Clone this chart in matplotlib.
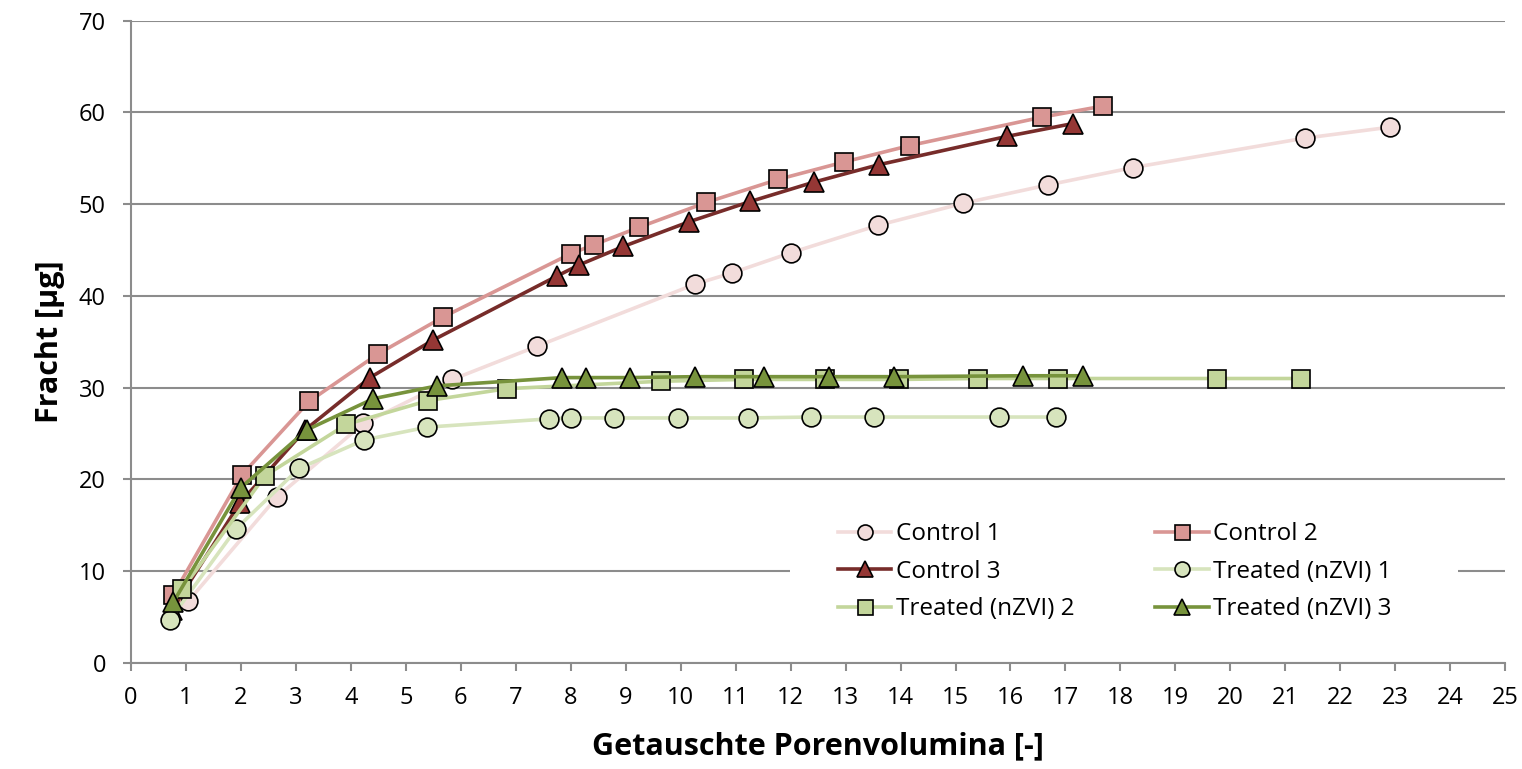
import matplotlib
matplotlib.use('Agg')
from matplotlib import pyplot as plt
from matplotlib.patches import Rectangle

# Control 1
c1_x = [1.04, 2.66, 4.23, 5.85, 7.38, 10.27, 10.93, 12.0, 13.59, 15.14, 16.68, 18.23, 21.35, 22.9]
c1_y = [6.7, 18.1, 26.1, 30.9, 34.5, 41.3, 42.5, 44.7, 47.7, 50.1, 52.1, 54.0, 57.2, 58.4]
# Control 2
c2_x = [0.77, 2.02, 3.24, 4.5, 5.68, 8.0, 8.43, 9.25, 10.47, 11.77, 12.97, 14.17, 16.58, 17.68]
c2_y = [7.4, 20.5, 28.5, 33.7, 37.7, 44.6, 45.6, 47.5, 50.2, 52.7, 54.6, 56.4, 59.5, 60.7]
# Control 3
c3_x = [0.75, 1.98, 3.17, 4.35, 5.5, 7.76, 8.16, 8.96, 10.16, 11.27, 12.42, 13.6, 15.94, 17.14]
c3_y = [5.8, 17.4, 25.4, 31.1, 35.2, 42.2, 43.4, 45.4, 48.1, 50.3, 52.4, 54.3, 57.4, 58.8]
# Treated (nZVI) 1
t1_x = [0.71, 1.91, 3.06, 4.24, 5.39, 7.6, 8.01, 8.78, 9.96, 11.22, 12.37, 13.51, 15.8, 16.83]
t1_y = [4.7, 14.6, 21.2, 24.3, 25.7, 26.6, 26.7, 26.7, 26.7, 26.7, 26.8, 26.8, 26.8, 26.8]
# Treated (nZVI) 2
t2_x = [0.93, 2.44, 3.92, 5.41, 6.85, 9.64, 11.15, 12.62, 13.97, 15.41, 16.87, 19.75, 21.29]
t2_y = [8.0, 20.4, 26.0, 28.6, 29.9, 30.7, 30.9, 30.9, 30.9, 31.0, 31.0, 31.0, 31.0]
# Treated (nZVI) 3
t3_x = [0.77, 2.0, 3.2, 4.41, 5.57, 7.85, 8.27, 9.07, 10.27, 11.51, 12.7, 13.88, 16.23, 17.32]
t3_y = [6.6, 19.1, 25.4, 28.8, 30.2, 31.1, 31.1, 31.1, 31.2, 31.2, 31.2, 31.2, 31.3, 31.3]

plt.rcParams['font.family'] = ['Open Sans', 'DejaVu Sans']
plt.rcParams['xtick.labelsize'] = 17
plt.rcParams['ytick.labelsize'] = 17

fig = plt.figure(figsize=(15.22, 7.69), dpi=100)
ax = fig.add_axes([0.086, 0.138, 0.903, 0.835])

series = [
    (c1_x, c1_y, 'Control 1', 'o', '#F2DCDB', '#F2DCDB'),
    (c2_x, c2_y, 'Control 2', 's', '#D99694', '#D99694'),
    (c3_x, c3_y, 'Control 3', '^', '#953735', '#772C2A'),
    (t1_x, t1_y, 'Treated (nZVI) 1', 'o', '#D7E4BD', '#D7E4BD'),
    (t2_x, t2_y, 'Treated (nZVI) 2', 's', '#C3D69B', '#C3D69B'),
    (t3_x, t3_y, 'Treated (nZVI) 3', '^', '#77933C', '#77933C'),
]

handles = []
for i, (x, y, name, mk, face, line) in enumerate(series):
    ms = 15 if mk == '^' else 13.5
    h, = ax.plot(x, y, color=line, lw=2.6, marker=mk, markersize=ms,
                 markerfacecolor=face, markeredgecolor='black', markeredgewidth=1.2,
                 label=name, zorder=3 + i)
    handles.append(h)

ax.set_xlim(0, 25)
ax.set_ylim(0, 70)
ax.set_xticks(range(0, 26))
ax.set_yticks(range(0, 71, 10))
ax.yaxis.grid(True, color='#8C8C8C', lw=1.5)
ax.set_axisbelow(True)
for s in ['top', 'right']:
    ax.spines[s].set_visible(False)
for s in ['left', 'bottom']:
    ax.spines[s].set_color('#8C8C8C')
    ax.spines[s].set_linewidth(1.5)
ax.tick_params(axis='both', colors='#8C8C8C', width=1.5, length=6, labelsize=17,
               labelcolor='black')
ax.tick_params(axis='y', pad=12)
ax.tick_params(axis='x', pad=11)

ax.set_xlabel('Getauschte Porenvolumina [-]', fontsize=22, fontweight='bold', labelpad=15)
ax.set_ylabel('Fracht [µg]', fontsize=22, fontweight='bold', labelpad=10)

# white area behind the legend (hides the gridline there, like the original)
ax.add_patch(Rectangle((0.4796, 0.11), 0.4862, 0.07, transform=ax.transAxes,
                       facecolor='white', edgecolor='none', zorder=1))

order = [0, 2, 4, 1, 3, 5]
leg = ax.legend([handles[i] for i in order], [series[i][2] for i in order],
                ncol=2, loc='center', bbox_to_anchor=(0.716, 0.142),
                fontsize=17.5, frameon=False,
                handlelength=2.2, handletextpad=0.2, columnspacing=3.3,
                labelspacing=0.55, borderpad=0.5, markerscale=0.8)

fig.savefig('out.png', dpi=100)
